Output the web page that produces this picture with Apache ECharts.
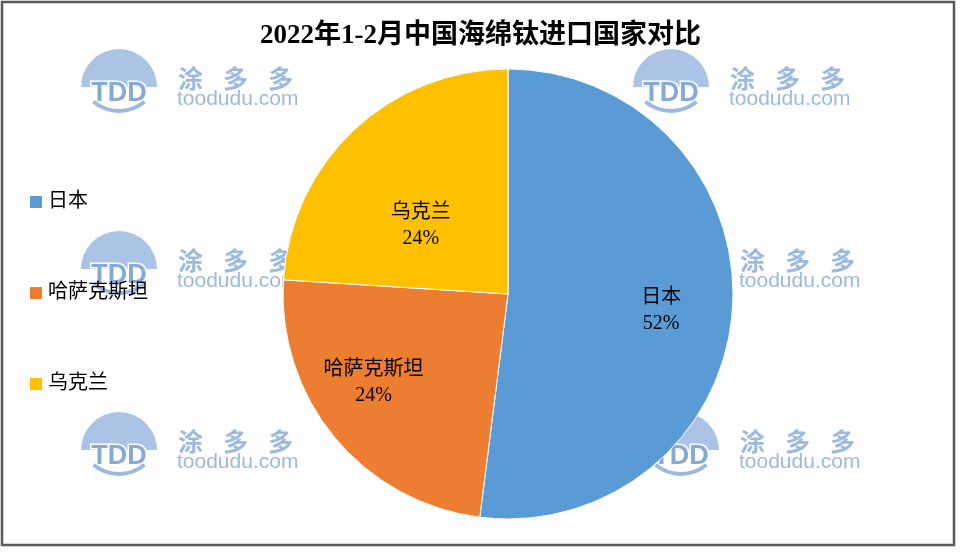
<!DOCTYPE html>
<html>
<head>
<meta charset="utf-8">
<script src="https://cdn.jsdelivr.net/npm/echarts@6/dist/echarts.min.js"></script>
<style>
  html, body { margin: 0; padding: 0; background: #fff; }
  #chart { width: 961px; height: 553px; }
</style>
</head>
<body>
<div id="chart"></div>
<script>
// 2022年1-2月中国海绵钛进口国家对比
const countries = ['日本', '哈萨克斯坦', '乌克兰'];
const shares = [52, 24, 24];
const colors = ['#5B9BD5', '#ED7D31', '#FFC000'];

const FONT = '"Liberation Serif", "Noto Sans CJK SC", serif';
const WM = '#9cb9df';

// 水印（涂多多）
function watermark(x, y) {
  return {
    type: 'group', x: x, y: y, z: 0, silent: true,
    children: [
      { type: 'sector', shape: { cx: 39, cy: 34, r: 38, r0: 0, startAngle: Math.PI, endAngle: Math.PI * 2 },
        style: { fill: WM, opacity: 0.85 } },
      { type: 'text', x: 39, y: 27,
        style: { text: 'TDD', fill: '#86a9d6', font: 'bold 27px "Liberation Sans", Arial', align: 'center', verticalAlign: 'top',
          stroke: '#fff', lineWidth: 3 } },
      { type: 'arc', shape: { cx: 39, cy: 18, r: 40, startAngle: Math.PI * 0.28, endAngle: Math.PI * 0.72 },
        style: { stroke: WM, lineWidth: 4, fill: null } },
      { type: 'text', x: 98, y: 13, style: { text: '涂', fill: WM, font: 'bold 25px "Noto Sans CJK SC"' } },
      { type: 'text', x: 143, y: 13, style: { text: '多', fill: WM, font: 'bold 25px "Noto Sans CJK SC"' } },
      { type: 'text', x: 188, y: 13, style: { text: '多', fill: WM, font: 'bold 25px "Noto Sans CJK SC"' } },
      { type: 'text', x: 97, y: 36, style: { text: 'toodudu.com', fill: WM, font: '21px "Liberation Sans", Arial' } }
    ]
  };
}

const chart = echarts.init(document.getElementById('chart'));

const pieData = countries.map((c, i) => ({ name: c, value: shares[i], itemStyle: { color: colors[i] } }));

// 每个标签单独一层透明饼图，用半径和起始角微调标签位置（同原图）
const labelRadius = [[77, 225], [91, 225], [0, 216]];
const labelStart = [87.5, 83.8, 98.6];
const labelSeries = labelRadius.map((r, k) => ({
  type: 'pie',
  center: [508, 294],
  radius: r,
  startAngle: labelStart[k],
  silent: true,
  z: 5,
  itemStyle: { color: 'transparent', borderWidth: 0 },
  label: { show: false },
  labelLine: { show: false },
  data: countries.map((c, i) => ({
    name: c, value: shares[i],
    label: i === k ? {
      show: true, position: 'inside', formatter: '{b}\n{d}%',
      color: '#000', fontFamily: FONT, fontSize: 20, lineHeight: 26
    } : { show: false }
  }))
}));

chart.setOption({
  backgroundColor: '#fff',
  animation: false,
  title: {
    text: '2022年1-2月中国海绵钛进口国家对比',
    left: 'center', top: 18,
    textStyle: { fontFamily: FONT, fontSize: 27, fontWeight: 'bold', color: '#000' }
  },
  legend: {
    orient: 'vertical',
    left: 28, top: 192,
    padding: 0,
    itemWidth: 14, itemHeight: 14,
    itemGap: 71,
    itemTextGap: 9,
    icon: 'rect',
    data: countries,
    textStyle: { fontFamily: FONT, fontSize: 20, color: '#000', lineHeight: 20 }
  },
  graphic: [
    watermark(80, 53), watermark(632, 53),
    watermark(80, 235), watermark(642, 235),
    watermark(80, 416), watermark(642, 416),
    { type: 'rect', z: 10, silent: true, shape: { x: 2, y: 2, width: 952, height: 543 },
      style: { fill: null, stroke: '#595959', lineWidth: 2.5 } }
  ],
  series: [{
    type: 'pie',
    center: [508, 294],
    radius: [0, 225],
    startAngle: 90,
    clockwise: true,
    z: 3,
    itemStyle: { borderColor: '#fff', borderWidth: 1 },
    label: { show: false },
    labelLine: { show: false },
    data: pieData
  }].concat(labelSeries)
});
</script>
</body>
</html>
